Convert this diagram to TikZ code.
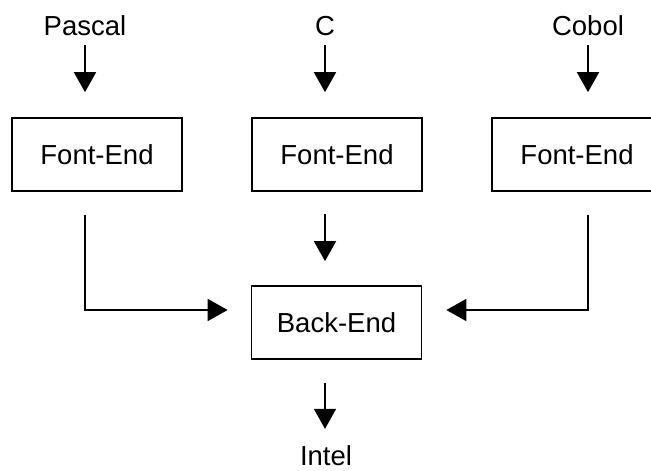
\documentclass[tikz,border=0pt]{standalone}
\usepackage{fontspec}
\setmainfont{Liberation Sans}
\usetikzlibrary{arrows.meta}
\begin{document}
\begin{tikzpicture}[x=1pt,y=-1pt,
  lbl/.style={inner sep=0pt, anchor=base, font=\fontsize{27.5}{31}\selectfont},
  stage/.style={draw, line width=1.7pt, minimum width=170pt, minimum height=73pt,
                inner sep=0pt, font=\fontsize{27.5}{31}\selectfont},
  arr/.style={line width=1.7pt, -{Triangle[width=22pt,length=20pt]}}]
  \clip (0,0) rectangle (651,471);
  \useasboundingbox (0,0) rectangle (651,471);

  % source languages
  \node[lbl] (pascal) at (85,35) {Pascal};
  \node[lbl] (c)      at (325,35) {C};
  \node[lbl] (cobol)  at (588,35) {Cobol};

  % front ends
  \node[stage] (fe1) at (97,154.5)  {Font-End};
  \node[stage] (fe2) at (337,154.5) {Font-End};
  \node[stage] (fe3) at (577,154.5) {Font-End};

  % back end and target
  \node[stage] (back) at (336.5,322.5) {Back-End};
  \node[lbl] (intel) at (326,465) {Intel};

  \coordinate (lj) at (pascal.south |- 0,310);
  \coordinate (rj) at (cobol.south |- 0,310);

  % inputs
  \draw[arr, shorten <=10pt, shorten >=25pt] (pascal.south) -- (pascal.south |- fe1.north);
  \draw[arr, shorten <=10pt, shorten >=25pt] (c.south) -- (c.south |- fe2.north);
  \draw[arr, shorten <=10pt, shorten >=25pt] (cobol.south) -- (cobol.south |- fe3.north);

  % front ends feeding the back end
  \draw[arr, shorten <=22pt, shorten >=24pt] (c.south |- fe2.south) -- (c.south |- back.north);
  \draw[arr, shorten <=23pt, shorten >=23pt] (lj |- fe1.south) -- (lj) -- (back.west |- lj);
  \draw[arr, shorten <=23pt, shorten >=24pt] (rj |- fe3.south) -- (rj) -- (back.east |- rj);

  % output
  \draw[arr, shorten <=23pt, shorten >=16pt] (c.south |- back.south) -- (c.south |- intel.north);
\end{tikzpicture}
\end{document}
